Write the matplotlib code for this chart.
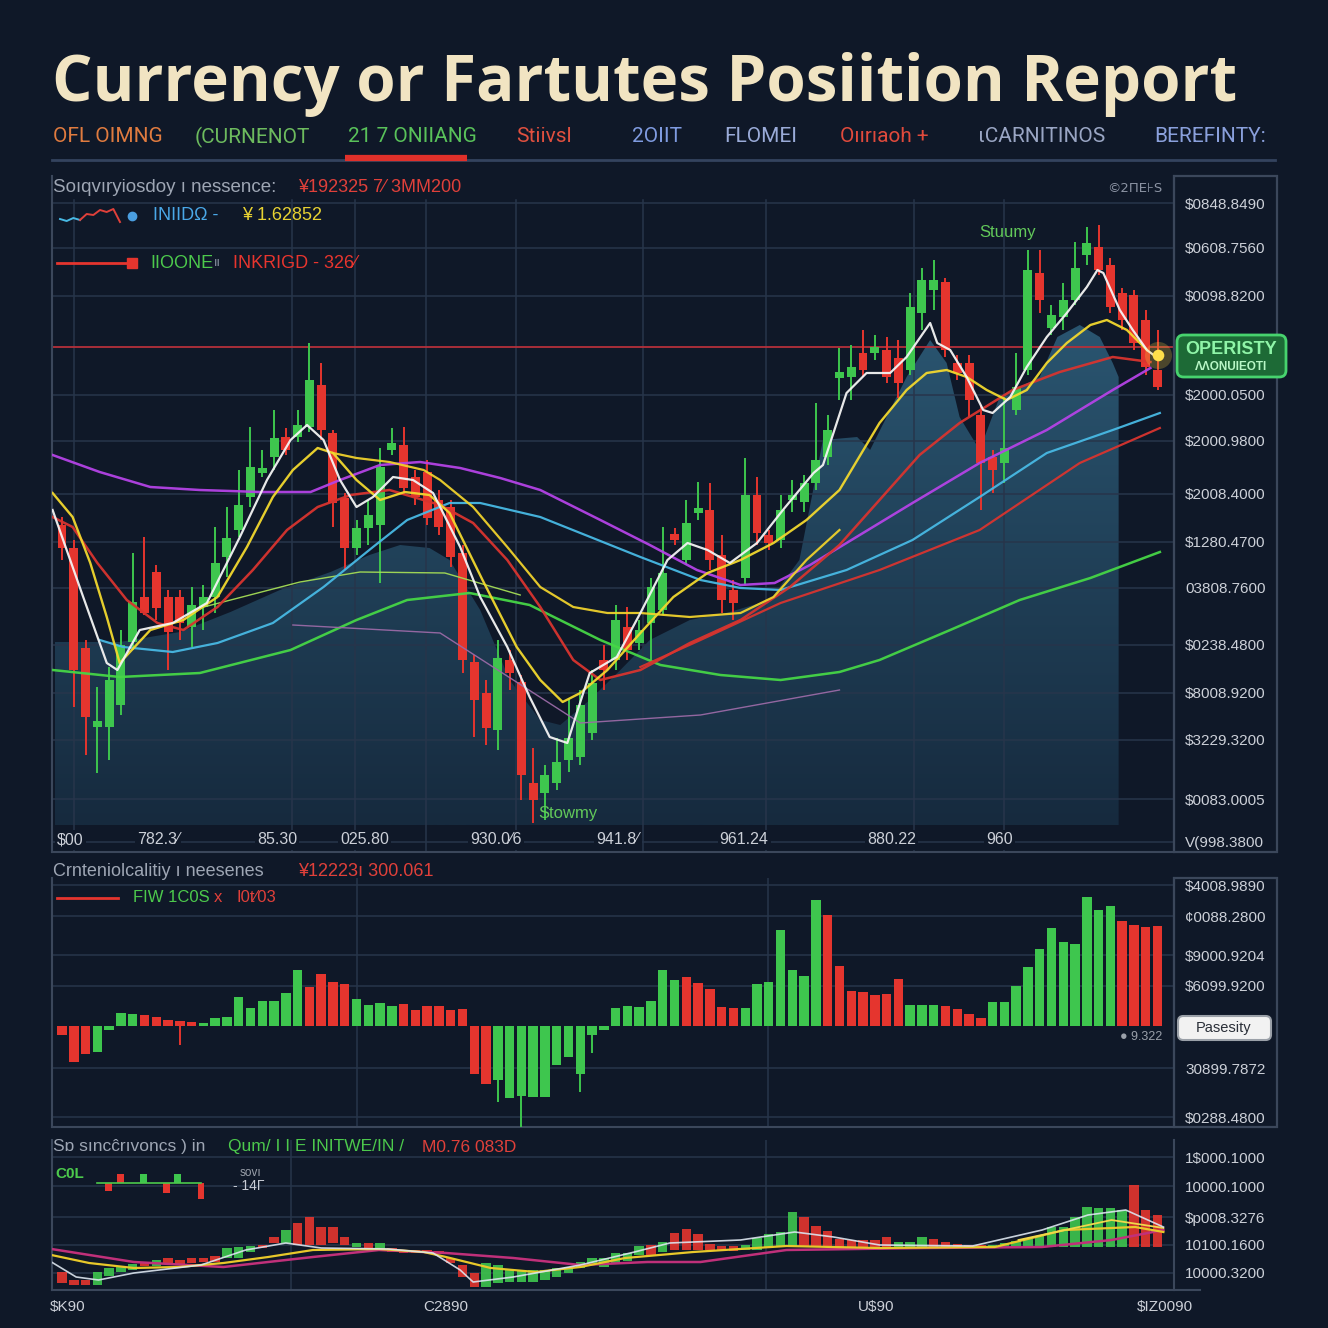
import numpy as np
import matplotlib
matplotlib.use("Agg")
import matplotlib.pyplot as plt
from matplotlib.patches import Rectangle, FancyBboxPatch, Polygon
from matplotlib.lines import Line2D
from matplotlib.colors import LinearSegmentedColormap

plt.rcParams["font.family"] = ["Liberation Sans", "DejaVu Sans"]

# ---------------- data ----------------
title = "Currency or Fartutes Posiition Report"
tab_labels = ["OFL OIMNG", "(CURNENOT", "21 7 ONIIANG", "Stiivsl", "2OIIT",
              "FLOMEI", "Oıırıaoh +", "ιCARNITINOS", "BEREFINTY:"]

candle_open = [1.327, 1.304, 1.204, 1.125, 1.125, 1.147, 1.210, 1.255, 1.280, 1.255,
               1.255, 1.225, 1.245, 1.255, 1.295, 1.322, 1.355, 1.379, 1.395, 1.415,
               1.415, 1.425, 1.467, 1.419, 1.354, 1.304, 1.324, 1.327, 1.402, 1.407,
               1.375, 1.380, 1.352, 1.345, 1.299, 1.190, 1.159, 1.122, 1.192, 1.170,
               1.069, 1.059, 1.069, 1.092, 1.095, 1.119, 1.192, 1.192, 1.225, 1.209,
               1.229, 1.242, 1.318, 1.292, 1.339, 1.342, 1.297, 1.262, 1.274, 1.357,
               1.317, 1.312, 1.352, 1.350, 1.369, 1.395, 1.474, 1.475, 1.499, 1.499,
               1.502, 1.494, 1.482, 1.539, 1.562, 1.570, 1.489, 1.489, 1.437, 1.395,
               1.389, 1.442, 1.482, 1.579, 1.524, 1.535, 1.552, 1.597, 1.605, 1.587,
               1.559, 1.557, 1.532, 1.482]
candle_close = [1.304, 1.182, 1.135, 1.131, 1.172, 1.207, 1.250, 1.239, 1.244, 1.220,
                1.229, 1.247, 1.255, 1.289, 1.314, 1.347, 1.385, 1.384, 1.414, 1.402,
                1.427, 1.472, 1.422, 1.349, 1.304, 1.324, 1.337, 1.385, 1.409, 1.364,
                1.355, 1.334, 1.325, 1.295, 1.192, 1.152, 1.124, 1.194, 1.179, 1.077,
                1.052, 1.077, 1.090, 1.114, 1.147, 1.169, 1.182, 1.232, 1.202, 1.222,
                1.265, 1.279, 1.312, 1.329, 1.344, 1.292, 1.252, 1.249, 1.357, 1.319,
                1.309, 1.342, 1.357, 1.369, 1.392, 1.422, 1.480, 1.485, 1.482, 1.505,
                1.475, 1.469, 1.545, 1.572, 1.572, 1.502, 1.479, 1.452, 1.389, 1.382,
                1.404, 1.465, 1.582, 1.552, 1.537, 1.552, 1.584, 1.609, 1.582, 1.545,
                1.532, 1.509, 1.485, 1.465]
candle_high = [1.335, 1.312, 1.212, 1.165, 1.185, 1.222, 1.299, 1.315, 1.287, 1.262,
               1.262, 1.265, 1.267, 1.325, 1.345, 1.382, 1.425, 1.402, 1.442, 1.424,
               1.442, 1.509, 1.489, 1.422, 1.359, 1.332, 1.352, 1.404, 1.424, 1.425,
               1.382, 1.392, 1.362, 1.352, 1.307, 1.197, 1.172, 1.212, 1.202, 1.177,
               1.104, 1.087, 1.114, 1.154, 1.162, 1.182, 1.207, 1.247, 1.245, 1.232,
               1.274, 1.325, 1.324, 1.352, 1.370, 1.369, 1.317, 1.272, 1.394, 1.375,
               1.322, 1.357, 1.372, 1.377, 1.449, 1.437, 1.504, 1.507, 1.522, 1.517,
               1.515, 1.512, 1.559, 1.584, 1.592, 1.574, 1.497, 1.497, 1.447, 1.402,
               1.455, 1.499, 1.602, 1.602, 1.547, 1.569, 1.610, 1.625, 1.627, 1.594,
               1.564, 1.562, 1.542, 1.522]
candle_low = [1.292, 1.145, 1.097, 1.079, 1.092, 1.137, 1.202, 1.237, 1.232, 1.182,
              1.212, 1.205, 1.222, 1.239, 1.275, 1.315, 1.345, 1.375, 1.382, 1.397,
              1.410, 1.420, 1.412, 1.325, 1.282, 1.297, 1.307, 1.269, 1.397, 1.357,
              1.347, 1.327, 1.317, 1.285, 1.179, 1.115, 1.107, 1.102, 1.162, 1.052,
              1.029, 1.032, 1.062, 1.080, 1.087, 1.112, 1.162, 1.182, 1.192, 1.202,
              1.192, 1.237, 1.307, 1.287, 1.332, 1.282, 1.239, 1.232, 1.267, 1.307,
              1.302, 1.304, 1.340, 1.340, 1.362, 1.387, 1.452, 1.452, 1.475, 1.492,
              1.469, 1.454, 1.477, 1.522, 1.542, 1.495, 1.472, 1.435, 1.342, 1.359,
              1.369, 1.437, 1.477, 1.539, 1.517, 1.522, 1.547, 1.587, 1.577, 1.539,
              1.522, 1.502, 1.477, 1.462]

# moving-average style overlays (time index, price)
ma_white_t = [-0.8, 1.8, 3.8, 4.7, 6.6, 9.4, 12.3, 15.1, 17.4, 19.4, 20.8, 22.2, 23.6, 25.0,
              26.4, 28.1, 29.8, 31.5, 33.8, 35.5, 37.8, 39.7, 41.4, 42.9, 43.7, 44.8, 47.1,
              49.1, 51.4, 53.1, 54.8, 56.7, 59.0, 61.2, 63.8, 64.6, 66.6, 68.3, 70.3, 71.7,
              73.7, 74.3, 75.4, 76.8, 78.2, 79.0, 80.5, 81.9, 83.6, 85.3, 87.0, 87.9, 88.4,
              89.8, 90.9, 92.1, 93.0]
ma_white_p = [1.342, 1.255, 1.189, 1.182, 1.222, 1.229, 1.249, 1.315, 1.372, 1.412, 1.427,
              1.412, 1.372, 1.345, 1.355, 1.375, 1.372, 1.359, 1.305, 1.255, 1.205, 1.155,
              1.115, 1.109, 1.139, 1.179, 1.195, 1.239, 1.292, 1.309, 1.302, 1.289, 1.309,
              1.342, 1.379, 1.387, 1.459, 1.479, 1.479, 1.495, 1.529, 1.509, 1.502, 1.475,
              1.442, 1.439, 1.455, 1.485, 1.515, 1.539, 1.565, 1.582, 1.579, 1.542, 1.522,
              1.502, 1.494]
ma_yellow_t = [-0.8, 0.9, 2.4, 3.8, 4.9, 7.5, 10.3, 13.2, 15.7, 17.9, 19.6, 21.7, 23.0, 25.0,
               27.0, 29.1, 31.2, 32.9, 35.7, 38.6, 40.6, 42.5, 44.0, 46.3, 49.1, 51.9, 54.8,
               57.6, 60.4, 63.2, 66.0, 69.4, 71.7, 73.4, 75.1, 76.8, 78.5, 80.2, 81.9, 83.6,
               85.3, 87.3, 88.7, 90.4, 92.1]
ma_yellow_p = [1.359, 1.335, 1.289, 1.235, 1.189, 1.222, 1.232, 1.255, 1.305, 1.355, 1.382,
               1.404, 1.399, 1.372, 1.352, 1.360, 1.357, 1.339, 1.272, 1.205, 1.172, 1.150,
               1.159, 1.182, 1.219, 1.255, 1.279, 1.292, 1.309, 1.332, 1.362, 1.429, 1.462,
               1.479, 1.482, 1.475, 1.462, 1.452, 1.462, 1.489, 1.509, 1.527, 1.532, 1.522,
               1.502]
ma_yellow2_t = [23.0, 25.0, 27.8, 30.7, 32.1, 34.9, 37.8, 40.6, 43.4, 46.3, 49.1, 53.3, 57.6,
                60.4, 63.2, 66.0]
ma_yellow2_p = [1.399, 1.394, 1.390, 1.382, 1.372, 1.345, 1.305, 1.265, 1.245, 1.239, 1.239,
                1.235, 1.239, 1.255, 1.292, 1.322]
ma_red_t = [-0.8, 0.9, 3.0, 5.5, 8.1, 10.3, 13.2, 16.2, 19.1, 21.7, 24.5, 27.8, 32.1, 34.9,
            37.8, 40.6, 43.4, 45.7, 49.1, 53.3, 57.6, 61.8, 66.0, 69.4, 72.8, 76.2, 80.7,
            84.7, 89.2, 92.4]
ma_red_p = [1.335, 1.325, 1.289, 1.252, 1.229, 1.222, 1.245, 1.282, 1.322, 1.345, 1.357,
            1.362, 1.347, 1.329, 1.292, 1.245, 1.192, 1.172, 1.182, 1.209, 1.232, 1.265,
            1.307, 1.352, 1.397, 1.429, 1.462, 1.480, 1.495, 1.490]
ma_red2_t = [49.1, 54.2, 61.0, 69.4, 77.9, 86.4, 93.2]
ma_red2_p = [1.185, 1.212, 1.249, 1.282, 1.322, 1.389, 1.424]
ma_cyan_t = [3.2, 5.2, 9.4, 13.2, 17.9, 22.2, 26.4, 29.3, 32.9, 35.5, 40.6, 49.1, 54.2, 57.6,
             61.0, 66.6, 72.2, 77.9, 83.6, 89.2, 93.2]
ma_cyan_p = [1.212, 1.205, 1.200, 1.209, 1.229, 1.265, 1.305, 1.332, 1.349, 1.349, 1.335,
             1.295, 1.272, 1.264, 1.262, 1.282, 1.312, 1.355, 1.399, 1.422, 1.439]
ma_magenta_t = [-0.8, 3.2, 7.5, 11.7, 16.8, 21.1, 23.6, 27.0, 30.4, 33.8, 37.2, 40.6, 45.7,
                49.9, 53.9, 57.6, 60.5, 63.5, 66.6, 72.2, 77.9, 83.6, 89.2, 92.4]
ma_magenta_p = [1.397, 1.380, 1.365, 1.362, 1.360, 1.360, 1.372, 1.387, 1.390, 1.384, 1.374,
                1.362, 1.332, 1.307, 1.282, 1.267, 1.269, 1.287, 1.309, 1.349, 1.389, 1.422,
                1.462, 1.484]
ma_green_t = [-0.8, 4.9, 11.7, 19.4, 25.0, 29.3, 34.6, 39.7, 45.7, 50.8, 55.9, 61.0, 66.0,
              69.4, 75.4, 81.3, 87.3, 93.2]
ma_green_p = [1.182, 1.175, 1.179, 1.202, 1.232, 1.252, 1.259, 1.247, 1.212, 1.187, 1.177,
              1.172, 1.180, 1.192, 1.222, 1.252, 1.274, 1.300]
ma_lime_t = [11.7, 20.2, 25.3, 32.5, 38.9]
ma_lime_p = [1.244, 1.270, 1.280, 1.279, 1.257]
ma_mauve_t = [19.6, 32.1, 44.0, 54.2, 66.0]
ma_mauve_p = [1.227, 1.219, 1.129, 1.137, 1.162]

# shaded envelope behind the candles
fill_t = [-0.6, 4.9, 10.0, 14.3, 18.5, 22.8, 26.1, 28.7, 31.2, 32.9, 35.5, 38.0, 40.6, 42.3,
          44.8, 47.4, 49.9, 53.3, 56.7, 60.1, 62.6, 64.6, 67.5, 68.6, 71.7, 73.7, 75.1, 76.2,
          77.9, 79.6, 83.0, 84.5, 86.4, 88.1, 89.2, 89.7]
fill_p = [1.210, 1.210, 1.220, 1.240, 1.262, 1.280, 1.297, 1.307, 1.304, 1.292, 1.242, 1.172,
          1.132, 1.127, 1.152, 1.182, 1.212, 1.232, 1.240, 1.252, 1.292, 1.412, 1.415, 1.402,
          1.475, 1.512, 1.489, 1.435, 1.402, 1.455, 1.475, 1.515, 1.527, 1.515, 1.489, 1.475]
fill_base = 1.027
red_level = 1.505
last_mark = 1.497

main_tick_vals = [1.649, 1.604, 1.556, 1.457, 1.411, 1.358, 1.310, 1.264, 1.207, 1.159,
                  1.112, 1.053, 1.010]
main_tick_labels = ["$0848.8490", "$0608.7560", "$0098.8200", "$2000.0500", "$2000.9800",
                    "$2008.4000", "$1280.4700", "03808.7600", "$0238.4800", "$8008.9200",
                    "$3229.3200", "$0083.0005", "V(998.3800"]
main_xlab_t = [0.7, 8.15, 18.25, 25.7, 36.85, 47.2, 57.9, 70.4, 79.6]
main_xlab = ["$00", "782.3⁄", "85.30", "025.80", "930.0⁄6", "941.8⁄", "961.24", "880.22", "960"]
main_vgrid = [1.0, 19.5, 24.9, 30.9, 38.5, 49.3, 59.8, 72.3, 80.0]
legend_spark = [0.35, 0.25, 0.4, 0.3, 0.6, 0.55, 0.8, 0.7, 0.85, 0.2]

# net position histogram
mid_vals = [-9.3, -36, -27.7, -26, -4.3, 13, 12.3, 10.7, 9, 6.3,
            5, 4, 3.3, 8.3, 9, 29, 18, 25, 25, 33.3,
            55.7, 39, 52.3, 44, 41.7, 26.7, 20.7, 23.3, 20, 22.3,
            15.7, 19.7, 19.7, 15.7, 17.3, -47.7, -57.7, -54.3, -71.7, -70.3,
            -71, -71, -39.3, -31, -47.7, -9.3, -4.3, 18, 20, 19.3,
            25, 55.7, 46.3, 49, 43, 36.7, 19, 18, 18, 42.3,
            44.3, 95.7, 55.7, 50.3, 125.7, 110.7, 59.7, 35, 34, 31.3,
            32.3, 47.3, 21, 21, 21, 20.3, 16.7, 11.7, 8.3, 24,
            23.7, 40.3, 59, 77, 98, 84, 82.3, 129.3, 116.3, 120.3,
            105.3, 101.3, 99.3, 100.3]
mid_dir = ("ddduuuuddd" "dduuuuuuuu" "udddduuuud" "ddddddduuu" "uuuuuuuuuu"
           "uuuddddduu" "uuuuuddddd" "dduuuddddu" "uuuuuuuuuu" "dddd")
mid_tail_idx = [10, 37, 39, 44, 45]
mid_tail_val = [-19, -76, -101, -66, -27]
mid_tick_vals = [141, 110, 71, 40, -42, -91]
mid_tick_labels = ["$4008.9890", "¢0088.2800", "$9000.9204", "$6099.9200", "30899.7872",
                   "$0288.4800"]
mid_vgrid = [25.0, 59.9]

# lower oscillator panel: floating bars (low, high) and overlay lines
bot_lo = [7, 5, 5, 5, 14, 18, 20, 24, 24, 26, 26, 27, 28, 28, 32, 32, 38, 42, 47, 47,
          45, 45, 45, 47, 45, 43, 42, 41, 38, 37, 37, 37, 36, 27, 13, 3, 3, 7, 8, 8,
          8, 10, 13, 17, 22, 25, 23, 27, 29, 35, 35, 38, 40, 40, 40, 40, 39, 39, 40, 40,
          42, 43, 43, 43, 43, 43, 43, 43, 43, 43, 43, 43, 43, 43, 43, 43, 43, 43, 43, 43,
          43, 43, 43, 43, 43, 43, 43, 43, 43, 43, 43, 43, 43, 43]
bot_hi = [18, 10, 10, 18, 22, 24, 26, 28, 30, 32, 30, 32, 32, 34, 42, 43, 44, 45, 53, 60,
          67, 73, 63, 63, 53, 47, 47, 47, 42, 40, 40, 40, 39, 32, 25, 17, 27, 25, 20, 20,
          20, 20, 22, 23, 28, 32, 32, 37, 37, 44, 45, 48, 57, 61, 56, 46, 44, 44, 45, 52,
          56, 58, 78, 73, 64, 59, 51, 50, 50, 50, 53, 48, 48, 53, 51, 48, 46, 45, 45, 45,
          47, 49, 51, 54, 63, 63, 73, 83, 82, 82, 80, 105, 80, 75]
bot_dir = ("ddduuuudud" "dddduuuddu" "dddddududd" "dddddduuuu" "uuuuuuuuuu"
           "dudddddduu" "uuuddddddd" "duuudddddu" "uuuuuuuuuu" "uddd")
bot_mag_t = [-0.9, 6.1, 13.7, 21.3, 26.9, 32.6, 38.3, 44.0, 49.7, 54.2, 61.5, 73.3, 83.2, 89.1, 93.5]
bot_mag_v = [41, 28, 23, 33, 40, 37, 32, 25, 28, 28, 40, 42, 43, 50, 60]
bot_yel_t = [-0.9, 2.3, 6.1, 9.9, 13.7, 17.5, 21.3, 26.9, 30.7, 32.6, 36.4, 40.2, 44.0, 47.8,
             53.6, 61.5, 69.4, 79.2, 85.1, 91.1, 93.5]
bot_yel_v = [35, 27, 22, 23, 27, 33, 40, 41, 38, 33, 22, 18, 23, 32, 38, 44, 42, 43, 60, 63, 58]
bot_yel2_t = [81.2, 89.1, 93.5]
bot_yel2_v = [50, 70, 62]
bot_wht_t = [-0.9, 1.2, 3.1, 6.1, 11.8, 15.6, 19.0, 22.0, 27.7, 31.5, 33.8, 34.9, 38.3, 44.0,
             48.6, 51.6, 57.6, 62.2, 65.5, 69.4, 77.3, 83.2, 87.1, 90.3, 93.5]
bot_wht_v = [28, 13, 10, 17, 25, 40, 47, 42, 41, 37, 20, 8, 13, 25, 38, 47, 50, 58, 53, 45,
             44, 60, 75, 80, 63]
bot_tick_vals = [133, 104, 73, 45, 17]
bot_tick_labels = ["1$000.1000", "10000.1000", "$p008.3276", "10100.1600", "10000.3200"]
bot_xlab_t = [0.5, 32.6, 69.1, 93.6]
bot_xlab = ["$K90", "C2890", "U$90", "$IZ0090"]
bot_vgrid = [19.4, 59.8]
mini_vals = [0, -0.8, 0.9, 0, 0.9, 0, -1.0, 0.9, 0, -1.6]
mini_dir = "udduudduud"

# ---------------- style ----------------
W = H = 1328
BG = "#0f1828"
GRID = "#27354b"
EDGE = "#3b475b"
UP = "#3ec64e"
DN = "#e5352e"
TICK = "#ccd0d8"
T_MIN, T_MAX = -0.85, 94.4

fig = plt.figure(figsize=(W / 100, H / 100), dpi=100, facecolor=BG)


def fx(x):
    return x / W


def fy(y):
    return 1 - y / H


def ftext(x, y, s, **kw):
    kw.setdefault("va", "center")
    return fig.text(fx(x), fy(y), s, **kw)


def fline(x0, x1, y0, y1, **kw):
    fig.add_artist(Line2D([fx(x0), fx(x1)], [fy(y0), fy(y1)],
                          transform=fig.transFigure, **kw))


def panel(l, t, r, b):
    a = fig.add_axes([fx(l), fy(b), (r - l) / W, (b - t) / H])
    a.set_facecolor(BG)
    a.spines["top"].set_visible(False)
    for side in ("left", "bottom", "right"):
        a.spines[side].set_color(EDGE)
        a.spines[side].set_linewidth(1.5)
    return a


def right_ticks(a, vals, labels):
    a.yaxis.tick_right()
    a.set_yticks(vals)
    a.set_yticklabels(labels)
    a.tick_params(axis="y", length=0, pad=8, labelsize=11, labelcolor=TICK)
    for v in vals:
        a.axhline(v, color=GRID, lw=1.1, zorder=1)


def dir_color(d):
    return UP if d == "u" else DN


# ---------------- title + tabs ----------------
tt = ftext(52, 101, title, va="baseline", fontsize=46, fontweight="bold",
           family=["Open Sans", "DejaVu Sans"], color="#f1e4c2")
rend = fig.canvas.get_renderer()
tt.set_fontsize(46 * 1185 / tt.get_window_extent(rend).width)

tab_x = [53, 195, 348, 516, 632, 724, 840, 978, 1154]
tab_colors = ["#e07b3f", "#6dbb5e", "#59c25a", "#e0503f", "#7f9be0", "#9aabd8",
              "#e04a3c", "#9aa6c4", "#8aa0dc"]
for lab, x, c in zip(tab_labels, tab_x, tab_colors):
    ftext(x, 137, lab, fontsize=15, color=c, family=["Roboto", "DejaVu Sans"])
fline(52, 1275, 160, 160, color="#34435e", lw=2)
fline(345, 467, 158, 158, color="#e0302a", lw=4.5, solid_capstyle="butt")

# ---------------- main price panel ----------------
ax = panel(52, 176, 1174, 852)
right_ticks(ax, main_tick_vals, main_tick_labels)
ax.set_xticks([])
for tv in main_vgrid:
    ax.axvline(tv, ymax=0.9645, color=GRID, lw=1.1, zorder=1)

poly = Polygon(np.column_stack([fill_t + [fill_t[-1], fill_t[0]],
                                fill_p + [fill_base, fill_base]]),
               closed=True, facecolor="none", edgecolor="none", transform=ax.transData)
ax.add_patch(poly)
grad_cmap = LinearSegmentedColormap.from_list("fill", ["#162a3e", "#2a5570"])
im = ax.imshow(np.linspace(1, 0, 256).reshape(-1, 1), cmap=grad_cmap, aspect="auto",
               extent=[fill_t[0], fill_t[-1], fill_base, max(fill_p)], zorder=0.5)
im.set_clip_path(poly)

ax.axhline(red_level, color="#b5303a", lw=1.3, zorder=2)

overlays = [
    (ma_green_t, ma_green_p, "#46d646", 1.8),
    (ma_lime_t, ma_lime_p, "#a5dd55", 1.0),
    (ma_mauve_t, ma_mauve_p, "#9a6aa6", 1.0),
    (ma_magenta_t, ma_magenta_p, "#b443e6", 1.8),
    (ma_cyan_t, ma_cyan_p, "#48b9e4", 1.6),
    (ma_red2_t, ma_red2_p, "#d8342f", 1.6),
    (ma_red_t, ma_red_p, "#d8342f", 1.8),
    (ma_yellow2_t, ma_yellow2_p, "#efd12c", 1.6),
    (ma_yellow_t, ma_yellow_p, "#f2d82e", 1.7),
    (ma_white_t, ma_white_p, "#f4f4f4", 1.6),
]
for tv, pv, col, lw in overlays:
    ax.plot(tv, pv, color=col, lw=lw, zorder=4, solid_joinstyle="round", alpha=0.95)

o = np.array(candle_open)
c = np.array(candle_close)
idx = np.arange(len(o))
ccol = [UP if ci >= oi else DN for oi, ci in zip(o, c)]
ax.vlines(idx, candle_low, candle_high, colors=ccol, lw=1.4, zorder=3)
ax.bar(idx, np.maximum(np.abs(c - o), 0.003), bottom=np.minimum(o, c), width=0.76,
       color=ccol, zorder=3.5)

ax.scatter([idx[-1]], [last_mark], s=380, color="#ffd23a", alpha=0.25, zorder=6, lw=0)
ax.scatter([idx[-1]], [last_mark], s=70, color="#ffdf4a", zorder=6.5, lw=0)

for tv, lab in zip(main_xlab_t, main_xlab):
    ax.text(tv, 1.012, lab, ha="center", va="center", fontsize=11.5, color=TICK,
            bbox=dict(fc=BG, ec="none", pad=1.5), zorder=7)
ax.text(80.3, 1.619, "Stuumy", color="#62c95a", fontsize=12, ha="center", va="center", zorder=7)
ax.text(42.95, 1.038, "Stowmy", color="#62c95a", fontsize=12, ha="center", va="center", zorder=7)
ax.set_xlim(T_MIN, T_MAX)
ax.set_ylim(1.0, 1.676)

ftext(53, 188, "Soıqvıryiosdoy ı nessence:", fontsize=13.5, color="#9ea6b4")
ftext(298, 188, "¥192325 7⁄ 3MM200", fontsize=13, color="#e0403a")
ftext(1135, 188, "©2ΠE⊦S", fontsize=9.5, color="#8b93a3", ha="center",
      family=["DejaVu Sans"])

# legend rows inside the price panel
sp = fig.add_axes([fx(57), fy(226), 66 / W, 20 / H])
sp.axis("off")
sp.plot(range(4), legend_spark[:4], color="#48b9e4", lw=1.4)
sp.plot(range(3, len(legend_spark)), legend_spark[3:], color="#e0403a", lw=1.4)
sp.set_ylim(0, 1)
fig.add_artist(Line2D([fx(132)], [fy(216)], marker="o", ms=6, color="#4a9ee0",
                      transform=fig.transFigure))
ftext(153, 216, "INIIDΩ -", fontsize=13, color="#4aa8e8")
ftext(242, 216, "¥ 1.62852", fontsize=13, color="#e8d232")
fline(57, 128, 263, 263, color=DN, lw=2)
fig.add_artist(Line2D([fx(132)], [fy(263)], marker="s", ms=7, color=DN,
                      transform=fig.transFigure))
ftext(150, 263, "IIOONE", fontsize=13, color="#4cc94c")
ftext(214, 263, "ıı", fontsize=9, color="#8b93a3")
ftext(233, 263, "INKRIGD - 326⁄", fontsize=13, color="#e8352e")

fig.add_artist(Rectangle((fx(1174), fy(852)), 103 / W, 676 / H, transform=fig.transFigure,
                         fill=False, ec=EDGE, lw=1.6))
fig.add_artist(FancyBboxPatch((fx(1177), fy(377)), 109 / W, 42 / H,
                              boxstyle="round,pad=0,rounding_size=0.005",
                              transform=fig.transFigure, fc="#1d6a36", ec="#47d36e", lw=2))
ftext(1231, 349, "OPERISTY", fontsize=13, fontweight="bold", color="#8ff5a8", ha="center")
ftext(1231, 367, "ΛΛONUIEOTI", fontsize=8.5, fontweight="bold", color="#b8f7c6", ha="center")

# ---------------- middle histogram panel ----------------
ax2 = panel(52, 878, 1174, 1127)
right_ticks(ax2, mid_tick_vals, mid_tick_labels)
ax2.set_xticks([])
for tv in mid_vgrid:
    ax2.axvline(tv, color=GRID, lw=1.1, zorder=1)
mcol = [dir_color(d) for d in mid_dir]
ax2.vlines(mid_tail_idx, 0, mid_tail_val, colors=[mcol[i] for i in mid_tail_idx], lw=1.4, zorder=3)
ax2.bar(np.arange(len(mid_vals)), mid_vals, width=0.8, color=mcol, zorder=3)
ax2.set_xlim(T_MIN, T_MAX)
ax2.set_ylim(-101, 148)

ftext(53, 871, "Crnteniolcalitiy ı neesenes", fontsize=13, color="#9ea6b4")
ftext(298, 871, "¥12223ı 300.061", fontsize=13, color="#e0403a")
fline(57, 118, 898, 898, color=DN, lw=2)
ftext(133, 898, "FIW 1C0S", fontsize=12, color="#4cc94c")
ftext(214, 898, "x", fontsize=12, color="#e0403a")
ftext(236, 898, "I0t⁄03", fontsize=12, color="#e0403a")
ftext(1120, 1037, "● 9.322", fontsize=9, color="#9aa0aa")

fig.add_artist(Rectangle((fx(1174), fy(1127)), 103 / W, 249 / H, transform=fig.transFigure,
                         fill=False, ec=EDGE, lw=1.6))
fig.add_artist(FancyBboxPatch((fx(1178), fy(1040)), 93 / W, 24 / H,
                              boxstyle="round,pad=0,rounding_size=0.004",
                              transform=fig.transFigure, fc="#f2f2f2", ec="#9aa0a8", lw=1.5))
ftext(1224, 1028, "Pasesity", fontsize=10.5, color="#2a2f38", ha="center")

# ---------------- lower oscillator panel ----------------
ax3 = panel(52, 1140, 1174, 1290)
right_ticks(ax3, bot_tick_vals, bot_tick_labels)
for tv in bot_vgrid:
    ax3.axvline(tv, color=GRID, lw=1.1, zorder=1)
lo = np.array(bot_lo)
hi = np.array(bot_hi)
ax3.bar(np.arange(len(lo)), hi - lo, bottom=lo, width=0.8,
        color=[dir_color(d) for d in bot_dir], alpha=0.9, zorder=3)
ax3.plot(bot_mag_t, bot_mag_v, color="#c0307a", lw=1.8, zorder=4)
ax3.plot(bot_yel_t, bot_yel_v, color="#e8c82a", lw=1.6, zorder=4)
ax3.plot(bot_yel2_t, bot_yel2_v, color="#f0d84a", lw=1.3, zorder=4)
ax3.plot(bot_wht_t, bot_wht_v, color="#dde6f0", lw=1.2, zorder=4, alpha=0.9)
ax3.set_xticks(bot_xlab_t)
ax3.set_xticklabels(bot_xlab)
ax3.tick_params(axis="x", length=0, pad=7, labelsize=11, labelcolor=TICK)
ax3.set_xlim(T_MIN, T_MAX)
ax3.set_ylim(0, 150)
fline(1174, 1200, 1290, 1290, color=EDGE, lw=1.5)

ftext(53, 1147, "Sɒ sıncĉrıvoncs ) in", fontsize=12.5, color="#9ea6b4")
ftext(228, 1147, "Qum/ I I E INITWE/IN /", fontsize=12.5, color="#4cc94c")
ftext(422, 1147, "M0.76 083D", fontsize=12.5, color="#e0403a")

ftext(55, 1174, "C0L", fontsize=11, fontweight="bold", color="#4cc94c")
mini = fig.add_axes([fx(88), fy(1203), 122 / W, 40 / H])
mini.axis("off")
mini.bar(np.arange(len(mini_vals)), mini_vals, width=0.6,
         color=[dir_color(d) for d in mini_dir])
mini.plot(np.arange(len(mini_vals)), [0] * len(mini_vals), color="#4cc94c", lw=1.2,
          drawstyle="steps-mid")
mini.set_ylim(-2, 2)
ftext(240, 1173, "sovı", fontsize=8.5, color="#9aa0aa")
ftext(233, 1186, "- 14Γ", fontsize=10, color="#c9cdd6")

fig.savefig("out.png", dpi=100, facecolor=BG)
